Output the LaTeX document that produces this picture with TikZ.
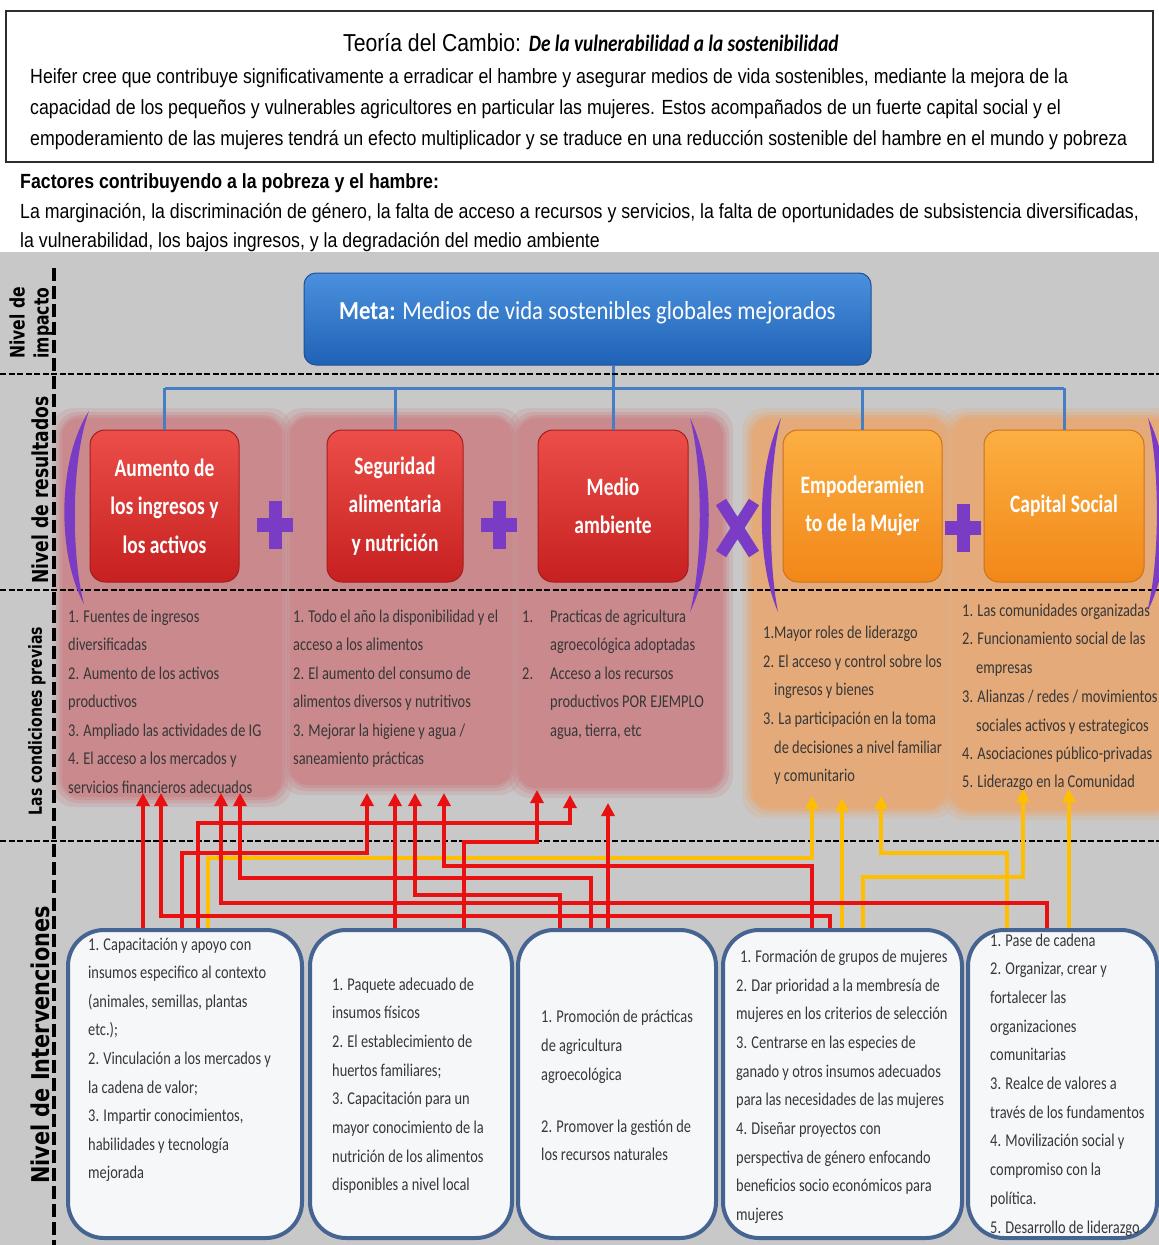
\documentclass[tikz,border=0pt]{standalone}
\usepackage{fontspec}
\setmainfont{Carlito}
\newfontfamily\arn{Liberation Sans}[FakeStretch=0.865]
\newfontfamily\calr{Carlito}[FakeStretch=0.8]
\newfontfamily\calbx{Carlito}[FakeStretch=0.78]
\newfontfamily\calmeta{Carlito}[FakeStretch=0.875]
\newfontfamily\calti{Carlito}[FakeStretch=0.82]
\newfontfamily\labf{DejaVu Sans}[FakeStretch=0.78]
\newfontfamily\labg{DejaVu Sans}[FakeStretch=0.85]
\usetikzlibrary{arrows.meta}
\definecolor{bggray}{RGB}{200,200,200}
\definecolor{pinkp}{RGB}{201,137,141}
\definecolor{orangep}{RGB}{228,170,122}
\definecolor{arrred}{RGB}{232,16,16}
\definecolor{arryel}{RGB}{255,190,0}
\definecolor{treeblue}{RGB}{70,125,195}
\definecolor{pur}{RGB}{122,60,196}
\definecolor{iborder}{RGB}{70,100,145}
\definecolor{ifill}{RGB}{246,247,249}
\definecolor{ctext}{RGB}{55,55,55}
\definecolor{redtop}{RGB}{236,78,72}
\definecolor{redbot}{RGB}{198,32,32}
\definecolor{redline}{RGB}{165,30,30}
\definecolor{ortop}{RGB}{252,175,65}
\definecolor{orbot}{RGB}{242,135,25}
\definecolor{orline}{RGB}{205,115,25}
\definecolor{bluetop}{RGB}{75,145,222}
\definecolor{bluebot}{RGB}{32,98,182}
\definecolor{blueline}{RGB}{30,80,150}
\definecolor{framec}{RGB}{45,45,45}
\newcommand\txtlines[6]{\foreach \t [count=\i from 0] in {#6} {\node[#1] (#2-\i) at (#3, {#4+\i*#5}) {\t};}}
\newcommand\panel[5]{\foreach \d/\o in {10/0.25,6/0.35,3/0.5}{\fill[#1,opacity=\o,rounded corners=22pt] (#2-\d,#3-\d) rectangle (#4+\d,#5+\d);}\fill[#1,rounded corners=18pt] (#2,#3) rectangle (#4,#5);}
\newcommand\elbow[6]{\coordinate (#2s) at (#3,934);\coordinate (#2h) at (#4,#5);\coordinate (#2e) at (#4,#6);\draw[#1] (#2s) |- (#2h) -- (#2e);}
\newcommand\straightarr[4]{\coordinate (#2s) at (#3,934);\coordinate (#2e) at (#3,#4);\draw[#1] (#2s) -- (#2e);}
\newcommand\plussign[2]{\fill[pur] (#1-18,#2-7) rectangle (#1+18,#2+7);\fill[pur] (#1-6.5,#2-24) rectangle (#1+6.5,#2+24);}
\begin{document}
\begin{tikzpicture}[x=1pt,y=-1pt,
 txtl/.style={anchor=base west, inner sep=0pt},
 toptxt/.style={txtl, font=\arn\fontsize{20.5}{24}\selectfont},
 ctxt/.style={txtl, text=ctext, font=\calr\fontsize{18}{22}\selectfont},
 itxt/.style={txtl, text=ctext, font=\calr\fontsize{18}{22}\selectfont},
 obox/.style={rounded corners=15pt, minimum height=152pt, align=center, text=white, font=\calbx\bfseries\fontsize{25}{38.5}\selectfont, line width=1pt, inner sep=0pt},
 redbox/.style={obox, draw=redline, top color=redtop, bottom color=redbot},
 orbox/.style={obox, draw=orline, top color=ortop, bottom color=orbot},
 ibox/.style={draw=iborder, fill=ifill, line width=4pt, rounded corners=36pt, inner sep=0pt, minimum height=308pt},
 labtxt/.style={rotate=90, align=center, inner sep=0pt},
 bluetree/.style={draw=treeblue, line width=3pt},
 hdash/.style={draw=black, line width=2.2pt, dash pattern=on 6pt off 2.5pt},
 vdash/.style={draw=black, line width=3.5pt, dash pattern=on 13pt off 5pt},
 ra/.style={draw=arrred, line width=4pt, -{Triangle[width=13pt,length=13pt]}},
 ya/.style={draw=arryel, line width=4pt, -{Triangle[width=13pt,length=13pt]}},
]
\useasboundingbox (0,0) rectangle (1159,1245);
\fill[white] (0,0) rectangle (1159,1245);
% header
\draw[line width=2.6pt, draw=framec] (6,11) rectangle (1153,162);
\node[txtl, font=\arn\fontsize{24.5}{28}\selectfont] (title) at (343,51) {Teoría del Cambio: {\calti\bfseries\itshape\fontsize{23.5}{26}\selectfont De la vulnerabilidad a la sostenibilidad}};
\node[toptxt] (b1) at (30,83) {Heifer cree que contribuye significativamente a erradicar el hambre y asegurar medios de vida sostenibles, mediante la mejora de la};
\node[toptxt] (b2) at (30,114) {capacidad de los pequeños y vulnerables agricultores en particular las mujeres. Estos acompañados de un fuerte capital social y el};
\node[toptxt] (b3) at (30,145) {empoderamiento de las mujeres tendrá un efecto multiplicador y se traduce en una reducción sostenible del hambre en el mundo y pobreza};
\node[toptxt, font=\arn\bfseries\fontsize{20.5}{24}\selectfont] (f0) at (20,188) {Factores contribuyendo a la pobreza y el hambre:};
\node[toptxt] (f1) at (20,218) {La marginación, la discriminación de género, la falta de acceso a recursos y servicios, la falta de oportunidades de subsistencia diversificadas,};
\node[toptxt] (f2) at (20,247) {la vulnerabilidad, los bajos ingresos, y la degradación del medio ambiente};
% background
\fill[bggray] (0,252) rectangle (1159,1245);
% panels
\panel{pinkp}{62}{418}{282}{797}
\panel{pinkp}{290}{418}{512}{785}
\panel{pinkp}{518}{418}{723}{788}
\panel{orangep}{752}{418}{946}{808}
\panel{orangep}{952}{418}{1170}{810}
% meta
\node[draw=blueline, top color=bluetop, bottom color=bluebot, rounded corners=12pt, minimum width=567pt, minimum height=92pt, line width=1pt] (meta) at (587.5,319) {};
\node[txtl, text=white, font=\calmeta\fontsize{26}{30}\selectfont] (mt) at (339,319) {\textbf{Meta:} Medios de vida sostenibles globales mejorados};
% outcome boxes
\node[redbox, minimum width=149pt] (o1) at (164.5,506) {Aumento de\\los ingresos y\\los activos};
\node[redbox, minimum width=136pt] (o2) at (395,506) {Seguridad\\alimentaria\\y nutrición};
\node[redbox, minimum width=150pt] (o3) at (613,506) {Medio\\ambiente};
\node[orbox, minimum width=159pt] (o4) at (862.5,506) {Empoderamien\\to de la Mujer};
\node[orbox, minimum width=160pt] (o5) at (1064,506) {Capital Social};
% tree
\coordinate (hb) at (0,388);
\draw[bluetree] (o3.north |- meta.south) -- (o3.north);
\draw[bluetree] (o1.north |- hb) -- (o5.north |- hb);
\foreach \b in {o1,o2,o4,o5} \draw[bluetree] (\b.north |- hb) -- (\b.north);
% dashed separators
\draw[hdash] (0,374) -- (1159,374);
\draw[hdash] (0,590) -- (1159,590);
\draw[hdash] (0,841) -- (1159,841);
\draw[vdash] (54,268) -- (54,1245);
% parentheses and signs
\fill[pur] (89,411) .. controls (57,460) and (57,555) .. (84,604) .. controls (71,555) and (71,460) .. (89,411) -- cycle;
\fill[pur] (690,418) .. controls (715,468) and (715,562) .. (690,612) .. controls (703,562) and (703,468) .. (690,418) -- cycle;
\fill[pur] (781,418) .. controls (756,468) and (756,562) .. (778,612) .. controls (768,562) and (768,468) .. (781,418) -- cycle;
\fill[pur] (1148,418) .. controls (1174,468) and (1174,562) .. (1147,612) .. controls (1160,562) and (1160,468) .. (1148,418) -- cycle;
\plussign{275}{525}
\plussign{499}{525}
\plussign{963}{528}
\draw[pur, line width=12pt] (721,502) -- (754,554) (754,502) -- (721,554);
% left labels
\node[labtxt, font=\labf\bfseries\fontsize{20}{24}\selectfont] (l1) at (31,323) {Nivel de\\impacto};
\node[labtxt, font=\labf\bfseries\fontsize{22}{26}\selectfont] (l2) at (40,490) {Nivel de resultados};
\node[labtxt, font=\labf\bfseries\fontsize{18}{22}\selectfont] (l3) at (37,721) {Las condiciones previas};
\node[labtxt, font=\labg\bfseries\fontsize{24.5}{28}\selectfont] (l4) at (40,1045) {Nivel de Intervenciones};
% conditions text
\txtlines{ctxt}{c1}{68}{622}{28.5}{{1. Fuentes de ingresos},{diversificadas},{2. Aumento de los activos},{productivos},{3. Ampliado las actividades de IG},{4. El acceso a los mercados y},{servicios financieros adecuados}}
\txtlines{ctxt}{c2}{293}{622}{28.5}{{1. Todo el año la disponibilidad y el},{acceso a los alimentos},{2. El aumento del consumo de},{alimentos diversos y nutritivos},{3. Mejorar la higiene y agua /},{saneamiento prácticas}}
\node[ctxt] (c3n1) at (522,622) {1.};
\node[ctxt] (c3n2) at (522,679) {2.};
\txtlines{ctxt}{c3}{550}{622}{28.5}{{Practicas de agricultura},{agroecológica adoptadas},{Acceso a los recursos},{productivos POR EJEMPLO},{agua, tierra, etc}}
\node[ctxt] (c4a) at (763,638) {1.Mayor roles de liderazgo};
\node[ctxt] (c4b) at (763,667) {2. El acceso y control sobre los};
\node[ctxt] (c4c) at (774,695) {ingresos y bienes};
\node[ctxt] (c4d) at (763,724) {3. La participación en la toma};
\node[ctxt] (c4e) at (774,753) {de decisiones a nivel familiar};
\node[ctxt] (c4f) at (774,781) {y comunitario};
\node[ctxt] (c5a) at (962,616) {1. Las comunidades organizadas};
\node[ctxt] (c5b) at (962,644) {2. Funcionamiento social de las};
\node[ctxt] (c5c) at (976,673) {empresas};
\node[ctxt] (c5d) at (962,702) {3. Alianzas / redes / movimientos};
\node[ctxt] (c5e) at (976,731) {sociales activos y estrategicos};
\node[ctxt] (c5f) at (962,759) {4. Asociaciones público-privadas};
\node[ctxt] (c5g) at (962,787) {5. Liderazgo en la Comunidad};
% arrows (yellow first, red over)
\elbow{ya}{y1}{1007}{881}{853}{796}
\elbow{ya}{y2}{208}{812}{858}{796}
\elbow{ya}{y3}{863}{1023}{877}{789}
\straightarr{ya}{y4}{842}{798}
\straightarr{ya}{y5}{1069}{789}
\elbow{ra}{r1}{198}{570}{823}{795}
\elbow{ra}{r2}{464}{537}{842}{790}
\elbow{ra}{r3}{182}{367}{853}{793}
\elbow{ra}{r4}{812}{444}{866}{793}
\elbow{ra}{r5}{591}{240}{878}{793}
\elbow{ra}{r6}{560}{415}{895}{793}
\elbow{ra}{r7}{1047}{221}{903}{793}
\elbow{ra}{r8}{830}{161}{916}{793}
\straightarr{ra}{r9}{143}{793}
\straightarr{ra}{r10}{395}{793}
\straightarr{ra}{r11}{608}{803}
% intervention boxes
\node[ibox, minimum width=234pt] (ib1) at (185,1084) {};
\node[ibox, minimum width=202pt] (ib2) at (411,1084) {};
\node[ibox, minimum width=198pt] (ib3) at (617,1084) {};
\node[ibox, minimum width=239pt] (ib4) at (842.5,1084) {};
\node[ibox, minimum width=189pt] (ib5) at (1062.5,1084) {};
\txtlines{itxt}{i1}{88}{950}{28.6}{{1. Capacitación y apoyo con},{insumos especifico al contexto},{(animales, semillas, plantas},{etc.);},{2. Vinculación a los mercados y},{la cadena de valor;},{3. Impartir conocimientos,},{habilidades y tecnología},{mejorada}}
\txtlines{itxt}{i2}{332}{990}{28.7}{{1. Paquete adecuado de},{insumos físicos},{2. El establecimiento de},{huertos familiares;},{3. Capacitación para un},{mayor conocimiento de la},{nutrición de los alimentos},{disponibles a nivel local}}
\node[itxt] (i3a) at (541,1022) {1. Promoción de prácticas};
\node[itxt] (i3b) at (541,1051) {de agricultura};
\node[itxt] (i3c) at (541,1080) {agroecológica};
\node[itxt] (i3d) at (541,1132) {2. Promover la gestión de};
\node[itxt] (i3e) at (541,1160) {los recursos naturales};
\node[itxt] (i4a) at (740,962) {1. Formación de grupos de mujeres};
\txtlines{itxt}{i4}{736}{991}{28.7}{{2. Dar prioridad a la membresía de},{mujeres en los criterios de selección},{3. Centrarse en las especies de},{ganado y otros insumos adecuados},{para las necesidades de las mujeres},{4. Diseñar proyectos con},{perspectiva de género enfocando},{beneficios socio económicos para},{mujeres}}
\txtlines{itxt}{i5}{990}{946}{28.7}{{1. Pase de cadena},{2. Organizar, crear y},{fortalecer las},{organizaciones},{comunitarias},{3. Realce de valores a},{través de los fundamentos},{4. Movilización social y},{compromiso con la},{política.},{5. Desarrollo de liderazgo}}
\end{tikzpicture}
\end{document}
